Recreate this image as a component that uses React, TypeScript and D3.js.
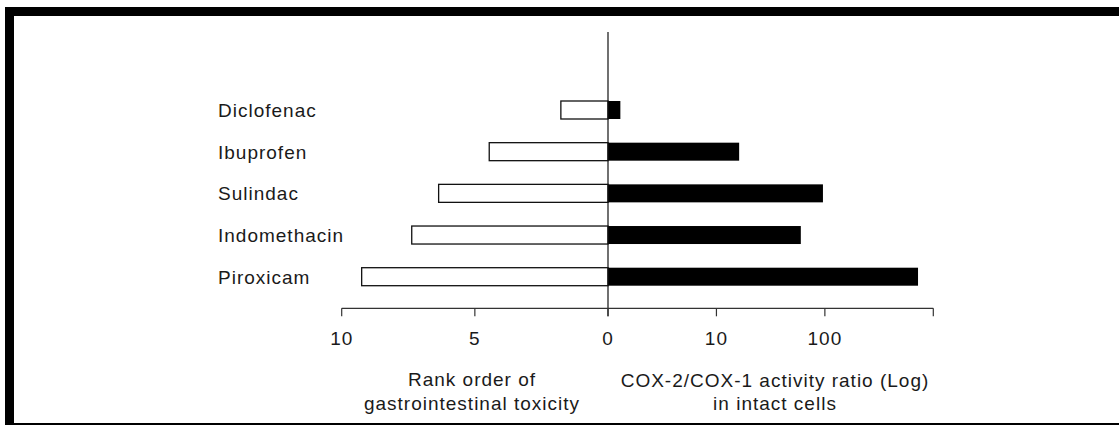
import React from "react";
import * as d3 from "d3";

const categories = ["Diclofenac", "Ibuprofen", "Sulindac", "Indomethacin", "Piroxicam"];
const toxicityRank = [1.77, 4.46, 6.36, 7.37, 9.25];
const coxRatio = [1.3, 16.2, 96, 60, 723];
const leftTicks = [10, 5, 0];
const rightTicks = [10, 100, 1000];
const rightTickLabels = ["10", "100", ""];
const leftTitle = ["Rank order of", "gastrointestinal toxicity"];
const rightTitle = ["COX-2/COX-1 activity ratio (Log)", "in intact cells"];

const W = 1119;
const H = 425;
const FONT = "'Liberation Sans', Arial, Helvetica, sans-serif";

export default function App() {
  const x0 = 608;
  const xLeft = d3.scaleLinear().domain([0, 10]).range([x0, 341.7]);
  const xRight = d3.scaleLog().domain([1, 1000]).range([x0, 933.3]);
  const y = d3.scalePoint<string>().domain(categories).range([110, 276.7]);
  const barH = 18;
  const axisY = 308.3;
  const tickLen = 8;
  const textStyle = { fontFamily: FONT, fontSize: 19, letterSpacing: 1, fill: "#1a1a1a" } as const;

  return (
    <svg
      width={W}
      height={H}
      style={{ position: "absolute", left: 0, top: 0, background: "#fff" }}
    >
      <rect x={0} y={0} width={W} height={H} fill="#fff" />
      {/* frame */}
      <rect x={5} y={7} width={W - 5} height={9} fill="#000" />
      <rect x={5} y={7} width={9} height={H - 7} fill="#000" />
      <rect x={5} y={423} width={W - 5} height={2} fill="#000" />

      {/* bars */}
      {categories.map((c, i) => (
        <g key={c}>
          <rect
            x={xLeft(toxicityRank[i])}
            y={(y(c) as number) - barH / 2}
            width={x0 - xLeft(toxicityRank[i])}
            height={barH}
            fill="#fff"
            stroke="#111"
            strokeWidth={1.3}
          />
          <rect
            x={x0}
            y={(y(c) as number) - barH / 2}
            width={xRight(coxRatio[i]) - x0}
            height={barH}
            fill="#000"
          />
          <text x={218} y={(y(c) as number) + 7} {...textStyle}>
            {c}
          </text>
        </g>
      ))}

      {/* vertical center line */}
      <line x1={x0} x2={x0} y1={32} y2={axisY + tickLen} stroke="#111" strokeWidth={1.2} />

      {/* axis */}
      <line x1={xLeft(10)} x2={xRight(1000)} y1={axisY} y2={axisY} stroke="#333" strokeWidth={1.2} />
      {leftTicks.map((t) => (
        <g key={"l" + t}>
          <line x1={xLeft(t)} x2={xLeft(t)} y1={axisY} y2={axisY + tickLen} stroke="#333" strokeWidth={1.2} />
          <text x={xLeft(t)} y={345} textAnchor="middle" {...textStyle}>
            {t}
          </text>
        </g>
      ))}
      {rightTicks.map((t, i) => (
        <g key={"r" + t}>
          <line x1={xRight(t)} x2={xRight(t)} y1={axisY} y2={axisY + tickLen} stroke="#333" strokeWidth={1.2} />
          <text x={xRight(t)} y={345} textAnchor="middle" {...textStyle}>
            {rightTickLabels[i]}
          </text>
        </g>
      ))}

      {/* titles */}
      {leftTitle.map((s, i) => (
        <text key={s} x={472} y={386 + i * 23.5} textAnchor="middle" {...textStyle}>
          {s}
        </text>
      ))}
      {rightTitle.map((s, i) => (
        <text key={s} x={775} y={386.5 + i * 23} textAnchor="middle" {...textStyle}>
          {s}
        </text>
      ))}
    </svg>
  );
}
